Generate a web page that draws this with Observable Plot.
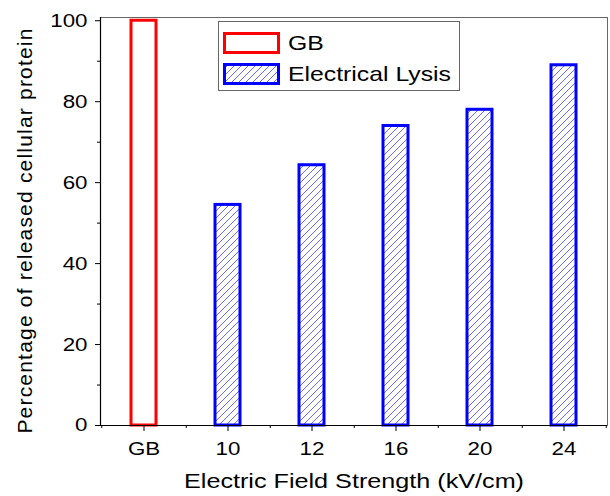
<!DOCTYPE html>
<html>
<head>
<meta charset="utf-8">
<script src="https://cdn.jsdelivr.net/npm/d3@7"></script>
<script src="https://cdn.jsdelivr.net/npm/@observablehq/plot@0.6"></script>
<style>
  html, body { margin: 0; padding: 0; background: #fff; }
  #wrap { position: relative; width: 610px; height: 496px; font-family: "Liberation Sans", Arial, sans-serif; }
  #legend { position: absolute; left: 218px; top: 21px; width: 240px; height: 68px; border: 1px solid #666; background: #fff; }
  #legend .row { position: absolute; left: 4px; display: flex; align-items: center; font-size: 21px; color: #000; white-space: nowrap; }
  #legend svg { margin-right: 8px; }
  #legend .lbl { display: inline-block; transform: scaleX(1.18); transform-origin: left center; }
</style>
</head>
<body>
<div id="wrap"></div>
<script>
const categories = ["GB", "10", "12", "16", "20", "24"];
const values = [100, 54.5, 64.3, 74, 78, 89];
const groups = ["GB", "Electrical Lysis", "Electrical Lysis", "Electrical Lysis", "Electrical Lysis", "Electrical Lysis"];
const yTicks = [0, 20, 40, 60, 80, 100];
const yMinor = [10, 30, 50, 70, 90];
const xTitle = "Electric Field Strength (kV/cm)";
const yTitle = "Percentage of released cellular protein";

const data = categories.map((c, i) => ({label: c, value: values[i], group: groups[i]}));
const gb = data.filter(d => d.group === "GB");
const el = data.filter(d => d.group !== "GB");

const W = 610, H = 496, mL = 100, mR = 3, mT = 17, mB = 71;
const step = (W - mL - mR) / categories.length;

const chart = Plot.plot({
  width: W, height: H,
  marginLeft: mL, marginRight: mR, marginTop: mT, marginBottom: mB,
  style: {fontFamily: "'Liberation Sans', Arial, sans-serif", fontSize: "18.6px", color: "#000", background: "#fff"},
  x: {type: "band", domain: categories, paddingInner: 0.7, paddingOuter: 0.35},
  y: {domain: [0, 100.8]},
  marks: [
    Plot.barY(gb, {x: "label", y: "value", fill: "white", stroke: "#ff0000", strokeWidth: 3}),
    Plot.barY(el, {x: "label", y: "value", fill: "url(#hatch)", stroke: "#0000ff", strokeWidth: 3}),
    Plot.frame({stroke: "#666", strokeWidth: 1}),
    Plot.ruleY([0], {stroke: "#000", strokeWidth: 1.2}),
    Plot.frame({anchor: "left", stroke: "#000", strokeWidth: 1.2}),
    Plot.axisY({ticks: yTicks, tickSize: 5, tickPadding: 8, label: null}),
    Plot.axisY({ticks: yMinor, tickSize: 3, tickFormat: () => "", label: null}),
    Plot.axisX({tickSize: 6, tickPadding: 10, label: null}),
    Plot.axisX(categories, {tickSize: 3, tickFormat: () => "", label: null, dx: step / 2}),
    Plot.axisX([categories[0]], {tickSize: 3, tickFormat: () => "", label: null, dx: -step / 2}),
    Plot.text([yTitle], {text: d => d, frameAnchor: "left", textAnchor: "middle", lineAnchor: "middle", rotate: -90, dx: -75, dy: 9, fontSize: 21, fill: "#000"}),
    Plot.text([xTitle], {text: d => d, frameAnchor: "bottom", dy: 62, fontSize: 21, fill: "#000"})
  ]
});

d3.select(chart).insert("defs", ":first-child").html(
  `<pattern id="hatch" patternUnits="userSpaceOnUse" width="7" height="7">
     <rect width="7" height="7" fill="white"/>
     <path d="M-1,1 l2,-2 M0,7 l7,-7 M6,8 l2,-2" stroke="#6a6aff" stroke-width="1"/>
   </pattern>`);

const wrap = document.getElementById("wrap");
wrap.appendChild(chart);

// widen lettering to match the reference's horizontally stretched text
chart.querySelectorAll("text").forEach(t => {
  const L = t.getComputedTextLength();
  if (!(L > 0)) return;
  if (t.textContent === yTitle) {
    const n = yTitle.length;
    t.style.letterSpacing = ((405 - L) / (n - 1)).toFixed(3) + "px";
    return;
  }
  const target = t.textContent === xTitle ? 340 : L * 1.2;
  t.setAttribute("textLength", target);
  t.setAttribute("lengthAdjust", "spacingAndGlyphs");
});

const legend = document.createElement("div");
legend.id = "legend";
legend.innerHTML = `
  <div class="row" style="top:9px"><svg width="57" height="22"><rect x="1.5" y="1.5" width="54" height="19" fill="white" stroke="#ff0000" stroke-width="3"/></svg><span class="lbl">GB</span></div>
  <div class="row" style="top:40px"><svg width="57" height="22"><rect x="1.5" y="1.5" width="54" height="19" fill="url(#hatch)" stroke="#0000ff" stroke-width="3"/></svg><span class="lbl">Electrical Lysis</span></div>`;
wrap.appendChild(legend);
</script>
</body>
</html>
